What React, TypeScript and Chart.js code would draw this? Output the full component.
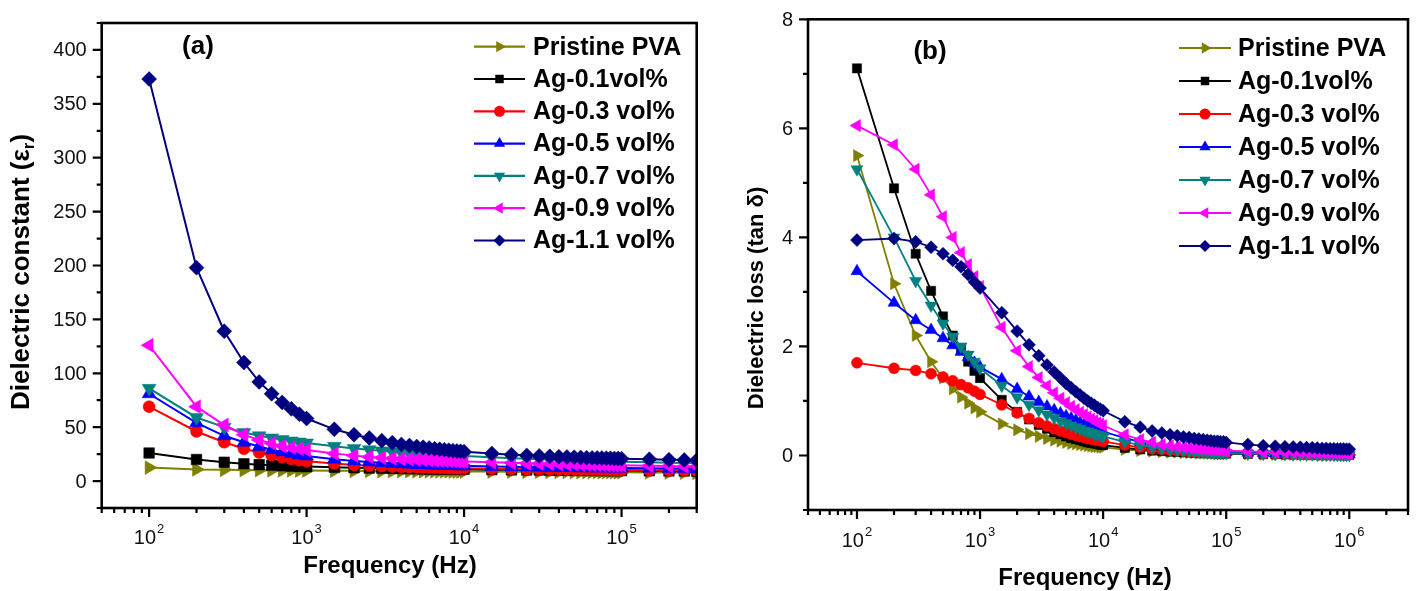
import React, { useEffect, useRef } from "react";
import { Chart, registerables } from "chart.js";
Chart.register(...registerables);

const FONT = "'Liberation Sans', Arial, Helvetica, sans-serif";

// ---------- frequencies (Hz) ----------
const FREQ_A = [
  100, 200, 300, 400, 500, 600, 700, 800, 900, 1000,
  1500, 2000, 2500, 3000, 3500, 4000, 4500, 5000, 5500, 6000, 6500, 7000, 7500, 8000, 8500, 9000, 9500, 10000,
  15000, 20000, 25000, 30000, 35000, 40000, 45000, 50000, 55000, 60000, 65000, 70000, 75000, 80000, 85000, 90000, 95000, 100000,
  150000, 200000, 250000, 300000,
];
const FREQ_B = [
  100, 200, 300, 400, 500, 600, 700, 800, 900, 1000,
  1500, 2000, 2500, 3000, 3500, 4000, 4500, 5000, 5500, 6000, 6500, 7000, 7500, 8000, 8500, 9000, 9500, 10000,
  15000, 20000, 25000, 30000, 35000, 40000, 45000, 50000, 55000, 60000, 65000, 70000, 75000, 80000, 85000, 90000, 95000, 100000,
  150000, 200000, 250000, 300000, 350000, 400000, 450000, 500000, 550000, 600000, 650000, 700000, 750000, 800000, 850000, 900000, 950000, 1000000,
];

// ---------- series ----------
const SERIES_NAMES = ["Pristine PVA", "Ag-0.1vol%", "Ag-0.3 vol%", "Ag-0.5 vol%", "Ag-0.7 vol%", "Ag-0.9 vol%", "Ag-1.1 vol%"];
const SERIES_COLORS = ["#808000", "#000000", "#ff0000", "#0000ff", "#008080", "#ff00ff", "#000080"];
const POINT_STYLES = ["triangle", "rect", "circle", "triangle", "triangle", "triangle", "rectRot"];
const POINT_ROTATIONS = [90, 0, 0, 0, 180, -90, 0];

// ---------- (a) dielectric constant ----------
const EPS_PVA = [
  12.5, 10.8, 10.4, 10.2, 10.1, 10.0, 9.9, 9.9, 9.8, 9.8,
  9.6, 9.5, 9.4, 9.3, 9.3, 9.2, 9.2, 9.1, 9.1, 9.1, 9.0, 9.0, 9.0, 9.0, 8.9, 8.9, 8.9, 8.9,
  8.8, 8.7, 8.6, 8.6, 8.5, 8.5, 8.5, 8.4, 8.4, 8.4, 8.4, 8.3, 8.3, 8.3, 8.3, 8.3, 8.2, 8.2,
  8.0, 7.9, 7.8, 7.7,
];
const EPS_AG01 = [
  26, 20, 17.5, 16, 15.2, 14.6, 14.2, 13.9, 13.6, 13.4,
  12.8, 12.4, 12.1, 11.9, 11.8, 11.6, 11.5, 11.4, 11.3, 11.3, 11.2, 11.1, 11.1, 11.0, 11.0, 11.0, 10.9, 10.9,
  10.6, 10.4, 10.3, 10.2, 10.1, 10.1, 10.0, 10.0, 9.9, 9.9, 9.9, 9.8, 9.8, 9.8, 9.8, 9.7, 9.7, 9.7,
  9.5, 9.4, 9.3, 9.2,
];
const EPS_AG03 = [
  69, 46, 36, 30, 26.5, 24, 22, 20.5, 19.3, 18.3,
  16.2, 15.0, 14.3, 13.8, 13.4, 13.1, 12.9, 12.7, 12.5, 12.4, 12.3, 12.2, 12.1, 12.0, 11.9, 11.9, 11.8, 11.8,
  11.4, 11.2, 11.0, 10.9, 10.8, 10.7, 10.7, 10.6, 10.6, 10.5, 10.5, 10.5, 10.4, 10.4, 10.4, 10.3, 10.3, 10.3,
  10.1, 10.0, 9.9, 9.8,
];
const EPS_AG05 = [
  81, 54, 42, 36, 32, 29, 27, 25.5, 24.2, 23.2,
  20.2, 18.6, 17.6, 16.9, 16.4, 16.0, 15.7, 15.4, 15.2, 15.0, 14.8, 14.7, 14.6, 14.5, 14.4, 14.3, 14.2, 14.1,
  13.5, 13.2, 13.0, 12.8, 12.7, 12.6, 12.5, 12.4, 12.4, 12.3, 12.3, 12.2, 12.2, 12.1, 12.1, 12.1, 12.0, 12.0,
  11.8, 11.7, 11.6, 11.5,
];
const EPS_AG07 = [
  86, 59, 50, 45, 42, 40, 38.5, 37.2, 36.2, 35.3,
  32.2, 30.3, 29.0, 28.0, 27.2, 26.6, 26.1, 25.6, 25.2, 24.9, 24.6, 24.3, 24.1, 23.9, 23.7, 23.5, 23.3, 23.2,
  22.0, 21.2, 20.6, 20.2, 19.9, 19.6, 19.4, 19.2, 19.0, 18.9, 18.7, 18.6, 18.5, 18.4, 18.3, 18.2, 18.1, 18.0,
  17.4, 17.0, 16.7, 16.5,
];
const EPS_AG09 = [
  126, 69, 52, 43, 38, 35, 32.5, 31, 29.8, 28.8,
  25.5, 23.6, 22.4, 21.6, 21.0, 20.5, 20.1, 19.8, 19.5, 19.3, 19.1, 18.9, 18.7, 18.6, 18.5, 18.4, 18.3, 18.2,
  17.4, 16.9, 16.5, 16.2, 16.0, 15.8, 15.6, 15.5, 15.4, 15.3, 15.2, 15.1, 15.0, 14.9, 14.9, 14.8, 14.8, 14.7,
  14.2, 13.9, 13.6, 13.4,
];
const EPS_AG11 = [
  373, 198, 139, 110, 92, 81, 73, 67, 62, 58,
  48, 43, 40, 37.5, 35.5, 34, 33, 32, 31.3, 30.6, 30, 29.5, 29, 28.6, 28.2, 27.9, 27.6, 27.3,
  25.5, 24.5, 23.8, 23.3, 22.9, 22.6, 22.3, 22.1, 21.9, 21.7, 21.5, 21.4, 21.3, 21.2, 21.1, 21.0, 20.9, 20.8,
  20.2, 19.8, 19.5, 19.3,
];

// ---------- (b) dielectric loss ----------
const TAN_PVA = [
  5.5, 3.15, 2.2, 1.72, 1.42, 1.22, 1.07, 0.96, 0.87, 0.8,
  0.58, 0.47, 0.4, 0.35, 0.31, 0.28, 0.26, 0.24, 0.22, 0.21, 0.2, 0.19, 0.18, 0.17, 0.16, 0.16, 0.15, 0.15,
  0.11, 0.09, 0.08, 0.07, 0.06, 0.06, 0.05, 0.05, 0.05, 0.04, 0.04, 0.04, 0.04, 0.04, 0.03, 0.03, 0.03, 0.03,
  0.03, 0.02, 0.02, 0.02, 0.02, 0.02, 0.02, 0.02, 0.02, 0.01, 0.01, 0.01, 0.01, 0.01, 0.01, 0.01, 0.01, 0.01,
];
const TAN_AG01 = [
  7.1, 4.9, 3.7, 3.02, 2.55, 2.2, 1.95, 1.72, 1.55, 1.42,
  1.02, 0.8, 0.66, 0.56, 0.49, 0.43, 0.39, 0.35, 0.32, 0.3, 0.28, 0.26, 0.24, 0.23, 0.22, 0.21, 0.2, 0.19,
  0.14, 0.11, 0.09, 0.08, 0.07, 0.065, 0.06, 0.055, 0.05, 0.05, 0.045, 0.045, 0.04, 0.04, 0.04, 0.035, 0.035, 0.035,
  0.03, 0.025, 0.025, 0.02, 0.02, 0.02, 0.02, 0.02, 0.02, 0.015, 0.015, 0.015, 0.015, 0.015, 0.015, 0.01, 0.01, 0.01,
];
const TAN_AG03 = [
  1.7, 1.6, 1.56, 1.5, 1.44, 1.37, 1.3, 1.24, 1.18, 1.12,
  0.93, 0.78, 0.68, 0.6, 0.54, 0.49, 0.45, 0.42, 0.39, 0.37, 0.35, 0.33, 0.31, 0.3, 0.29, 0.28, 0.27, 0.26,
  0.19, 0.15, 0.12, 0.11, 0.1, 0.09, 0.08, 0.075, 0.07, 0.065, 0.06, 0.06, 0.055, 0.055, 0.05, 0.05, 0.05, 0.045,
  0.04, 0.035, 0.03, 0.03, 0.025, 0.025, 0.025, 0.02, 0.02, 0.02, 0.02, 0.02, 0.02, 0.015, 0.015, 0.015, 0.015, 0.015,
];
const TAN_AG05 = [
  3.38, 2.8, 2.48, 2.3, 2.15, 2.02, 1.9, 1.8, 1.7, 1.62,
  1.4, 1.22, 1.08, 0.98, 0.9, 0.83, 0.77, 0.72, 0.68, 0.64, 0.6, 0.57, 0.54, 0.52, 0.5, 0.48, 0.46, 0.44,
  0.32, 0.25, 0.2, 0.17, 0.15, 0.13, 0.12, 0.11, 0.1, 0.095, 0.09, 0.085, 0.08, 0.075, 0.07, 0.07, 0.065, 0.065,
  0.05, 0.045, 0.04, 0.035, 0.035, 0.03, 0.03, 0.03, 0.025, 0.025, 0.025, 0.025, 0.02, 0.02, 0.02, 0.02, 0.02, 0.02,
];
const TAN_AG07 = [
  5.25, 4.0, 3.2, 2.75, 2.42, 2.18, 2.0, 1.85, 1.72, 1.6,
  1.28, 1.07, 0.93, 0.83, 0.75, 0.69, 0.63, 0.59, 0.55, 0.52, 0.49, 0.46, 0.44, 0.42, 0.4, 0.38, 0.37, 0.35,
  0.25, 0.19, 0.15, 0.13, 0.11, 0.1, 0.09, 0.08, 0.075, 0.07, 0.065, 0.06, 0.06, 0.055, 0.05, 0.05, 0.05, 0.045,
  0.035, 0.03, 0.025, 0.025, 0.02, 0.02, 0.02, 0.02, 0.015, 0.015, 0.015, 0.015, 0.015, 0.01, 0.01, 0.01, 0.01, 0.01,
];
const TAN_AG09 = [
  6.05, 5.7, 5.25, 4.78, 4.38, 4.0, 3.72, 3.5, 3.28, 3.1,
  2.35, 1.92, 1.63, 1.43, 1.28, 1.15, 1.05, 0.97, 0.9, 0.84, 0.79, 0.75, 0.71, 0.67, 0.64, 0.6, 0.58, 0.55,
  0.38, 0.29, 0.24, 0.2, 0.18, 0.16, 0.15, 0.14, 0.13, 0.12, 0.115, 0.11, 0.105, 0.1, 0.1, 0.095, 0.09, 0.09,
  0.075, 0.065, 0.06, 0.055, 0.055, 0.05, 0.05, 0.05, 0.045, 0.045, 0.045, 0.04, 0.04, 0.04, 0.04, 0.04, 0.035, 0.035,
];
const TAN_AG11 = [
  3.95, 3.98, 3.92, 3.82, 3.7, 3.58, 3.46, 3.32, 3.18, 3.07,
  2.62, 2.28, 2.03, 1.83, 1.66, 1.53, 1.42, 1.32, 1.24, 1.17, 1.11, 1.05, 1.0, 0.96, 0.92, 0.88, 0.85, 0.82,
  0.62, 0.52, 0.45, 0.41, 0.38, 0.36, 0.34, 0.33, 0.31, 0.3, 0.29, 0.28, 0.27, 0.26, 0.26, 0.25, 0.25, 0.24,
  0.2, 0.18, 0.17, 0.16, 0.155, 0.15, 0.145, 0.14, 0.135, 0.13, 0.13, 0.125, 0.125, 0.12, 0.12, 0.12, 0.115, 0.115,
];

// ---------- ticks ----------
const Y_TICKS_A = [0, 50, 100, 150, 200, 250, 300, 350, 400];
const Y_MINOR_A = [-25, 25, 75, 125, 175, 225, 275, 325, 375, 425];
const X_DECADES_A = [100, 1000, 10000, 100000];
const X_EXPONENTS_A = ["2", "3", "4", "5"];
const Y_TICKS_B = [0, 2, 4, 6, 8];
const Y_MINOR_B = [-1, 1, 3, 5, 7];
const X_DECADES_B = [100, 1000, 10000, 100000, 1000000];
const X_EXPONENTS_B = ["2", "3", "4", "5", "6"];

function drawMarker(ctx, style, rotDeg, x, y, r, color) {
  ctx.save();
  ctx.fillStyle = color;
  ctx.beginPath();
  if (style === "circle") {
    ctx.arc(x, y, r, 0, Math.PI * 2);
  } else if (style === "rect") {
    const s = Math.SQRT1_2 * r;
    ctx.rect(x - s, y - s, 2 * s, 2 * s);
  } else if (style === "rectRot") {
    ctx.moveTo(x, y - r);
    ctx.lineTo(x + r, y);
    ctx.lineTo(x, y + r);
    ctx.lineTo(x - r, y);
    ctx.closePath();
  } else {
    let rad = (rotDeg * Math.PI) / 180;
    for (let k = 0; k < 3; k++) {
      const px = x + Math.sin(rad) * r;
      const py = y - Math.cos(rad) * r;
      if (k === 0) ctx.moveTo(px, py);
      else ctx.lineTo(px, py);
      rad += (2 * Math.PI) / 3;
    }
    ctx.closePath();
  }
  ctx.fill();
  ctx.restore();
}

function makeDecor(cfg) {
  return {
    id: "decor" + cfg.id,
    afterDraw(chart) {
      const { ctx, chartArea: ca, scales } = chart;
      const xs = scales.x;
      const ys = scales.y;
      ctx.save();
      ctx.strokeStyle = "#000";
      ctx.fillStyle = "#000";
      ctx.lineCap = "butt";
      // frame
      ctx.lineWidth = 2.6;
      ctx.strokeRect(ca.left, ca.top, ca.right - ca.left, ca.bottom - ca.top);
      // y ticks
      ctx.lineWidth = 2.2;
      ctx.beginPath();
      for (const v of cfg.yMajor) {
        const py = ys.getPixelForValue(v);
        ctx.moveTo(ca.left - 9, py);
        ctx.lineTo(ca.left, py);
      }
      for (const v of cfg.yMinor) {
        const py = ys.getPixelForValue(v);
        ctx.moveTo(ca.left - 5, py);
        ctx.lineTo(ca.left, py);
      }
      // x ticks
      for (const d of cfg.xDecades) {
        const px = xs.getPixelForValue(d);
        ctx.moveTo(px, ca.bottom);
        ctx.lineTo(px, ca.bottom + 9);
      }
      for (let k = 1; k <= 6; k++) {
        for (let m = 2; m <= 9; m++) {
          const v = m * Math.pow(10, k);
          if (v < xs.min * 0.999 || v > xs.max * 1.001) continue;
          const px = xs.getPixelForValue(v);
          ctx.moveTo(px, ca.bottom);
          ctx.lineTo(px, ca.bottom + 5);
        }
      }
      ctx.stroke();

      // y labels
      ctx.fillStyle = "#111";
      ctx.font = `20px ${FONT}`;
      ctx.textAlign = "right";
      ctx.textBaseline = "middle";
      for (const v of cfg.yMajor) {
        ctx.fillText(String(v), ca.left - 15, ys.getPixelForValue(v) + 1);
      }
      // x labels 10^n
      ctx.textBaseline = "alphabetic";
      ctx.textAlign = "left";
      cfg.xDecades.forEach((d, i) => {
        const px = xs.getPixelForValue(d);
        ctx.font = `20px ${FONT}`;
        const w1 = ctx.measureText("10").width;
        ctx.font = `13px ${FONT}`;
        const w2 = ctx.measureText(cfg.xExp[i]).width;
        const sx = px - (w1 + 1 + w2) / 2;
        ctx.font = `20px ${FONT}`;
        ctx.fillText("10", sx, cfg.xLabelBase);
        ctx.font = `13px ${FONT}`;
        ctx.fillText(cfg.xExp[i], sx + w1 + 1, cfg.xLabelBase - 11);
      });

      // axis titles
      ctx.fillStyle = "#000";
      ctx.font = `bold 24px ${FONT}`;
      ctx.textAlign = "center";
      ctx.textBaseline = "middle";
      ctx.fillText("Frequency (Hz)", cfg.xTitle[0], cfg.xTitle[1]);

      ctx.save();
      ctx.translate(cfg.yTitle[0], cfg.yTitle[1]);
      ctx.rotate(-Math.PI / 2);
      ctx.textAlign = "left";
      const parts = cfg.yTitleParts;
      const fs = cfg.yTitleSize;
      let total = 0;
      const widths = parts.map((p) => {
        ctx.font = p.sub ? `bold ${Math.round(fs * 0.66)}px ${FONT}` : `bold ${fs}px ${FONT}`;
        const w = ctx.measureText(p.t).width;
        total += w;
        return w;
      });
      let cx = -total / 2;
      parts.forEach((p, i) => {
        ctx.font = p.sub ? `bold ${Math.round(fs * 0.66)}px ${FONT}` : `bold ${fs}px ${FONT}`;
        ctx.fillText(p.t, cx, p.sub ? fs * 0.3 : 0);
        cx += widths[i];
      });
      ctx.restore();

      // panel label
      ctx.font = `bold 26px ${FONT}`;
      ctx.textAlign = "center";
      ctx.fillText(cfg.panel, cfg.panelPos[0], cfg.panelPos[1]);

      // legend
      const L = cfg.legend;
      SERIES_NAMES.forEach((name, i) => {
        const y = L.y0 + i * L.dy;
        ctx.strokeStyle = SERIES_COLORS[i];
        ctx.lineWidth = 2.2;
        ctx.beginPath();
        ctx.moveTo(L.x0, y);
        ctx.lineTo(L.x1, y);
        ctx.stroke();
        drawMarker(ctx, POINT_STYLES[i], POINT_ROTATIONS[i], (L.x0 + L.x1) / 2, y, L.r[i], SERIES_COLORS[i]);
        ctx.fillStyle = "#000";
        ctx.font = `bold 25px ${FONT}`;
        ctx.textAlign = "left";
        ctx.textBaseline = "middle";
        ctx.fillText(name, L.tx, y + 1);
      });
      ctx.restore();
    },
  };
}

function buildDatasets(freq, seriesList, radii, lw) {
  return seriesList.map((vals, i) => ({
    label: SERIES_NAMES[i],
    data: freq.map((f, j) => ({ x: f, y: vals[j] })),
    borderColor: SERIES_COLORS[i],
    backgroundColor: SERIES_COLORS[i],
    borderWidth: lw,
    pointStyle: POINT_STYLES[i],
    pointRotation: POINT_ROTATIONS[i],
    pointRadius: radii[i],
    pointBorderWidth: 0.5,
    pointBorderColor: SERIES_COLORS[i],
    pointBackgroundColor: SERIES_COLORS[i],
    tension: 0,
    order: 6 - i,
  }));
}

function makeChart(canvas, p) {
  return new Chart(canvas, {
    type: "line",
    data: { datasets: p.datasets },
    options: {
      responsive: false,
      maintainAspectRatio: false,
      animation: false,
      events: [],
      layout: { padding: p.padding },
      plugins: { legend: { display: false }, tooltip: { enabled: false } },
      scales: {
        x: { type: "logarithmic", min: p.xMin, max: p.xMax, display: false },
        y: { type: "linear", min: p.yMin, max: p.yMax, display: false },
      },
    },
    plugins: [makeDecor(p.decor)],
  });
}

export default function App() {
  const refA = useRef(null);
  const refB = useRef(null);
  useEffect(() => {
    document.body.style.margin = "0";
    const chartA = makeChart(refA.current, {
      datasets: buildDatasets(
        FREQ_A,
        [EPS_PVA, EPS_AG01, EPS_AG03, EPS_AG05, EPS_AG07, EPS_AG09, EPS_AG11],
        [8, 7.5, 6, 8, 8, 8, 7.5],
        2
      ),
      padding: { left: 101.7, top: 23, right: 11.3, bottom: 83 },
      xMin: 50,
      xMax: 300000,
      yMin: -25,
      yMax: 425,
      decor: {
        id: "A",
        yMajor: Y_TICKS_A,
        yMinor: Y_MINOR_A,
        xDecades: X_DECADES_A,
        xExp: X_EXPONENTS_A,
        xLabelBase: 544,
        xTitle: [390, 566],
        yTitle: [22, 272],
        yTitleSize: 26,
        yTitleParts: [{ t: "Dielectric constant (ε" }, { t: "r", sub: true }, { t: ")" }],
        panel: "(a)",
        panelPos: [198, 47],
        legend: { x0: 474, x1: 525, tx: 533, y0: 46.7, dy: 32.3, r: [6.5, 6, 5.5, 6.5, 6.5, 6.5, 6] },
      },
    });
    const chartB = makeChart(refB.current, {
      datasets: buildDatasets(
        FREQ_B,
        [TAN_PVA, TAN_AG01, TAN_AG03, TAN_AG05, TAN_AG07, TAN_AG09, TAN_AG11],
        [7, 6.5, 5.5, 7, 7, 7, 6.5],
        1.8
      ),
      padding: { left: 100, top: 19.3, right: 8, bottom: 81 },
      xMin: 40,
      xMax: 3000000,
      yMin: -1,
      yMax: 8,
      decor: {
        id: "B",
        yMajor: Y_TICKS_B,
        yMinor: Y_MINOR_B,
        xDecades: X_DECADES_B,
        xExp: X_EXPONENTS_B,
        xLabelBase: 546.5,
        xTitle: [377, 578],
        yTitle: [49, 298],
        yTitleSize: 22,
        yTitleParts: [{ t: "Dielectric loss (tan δ)" }],
        panel: "(b)",
        panelPos: [222, 52],
        legend: { x0: 471, x1: 523, tx: 530, y0: 48, dy: 33, r: [6.5, 6, 5.5, 6.5, 6.5, 6.5, 6] },
      },
    });
    return () => {
      chartA.destroy();
      chartB.destroy();
    };
  }, []);
  return (
    <div style={{ position: "absolute", left: 0, top: 0, width: 1416, height: 591, background: "#fff" }}>
      <canvas ref={refA} width={708} height={591} style={{ position: "absolute", left: 0, top: 0 }} />
      <canvas ref={refB} width={708} height={591} style={{ position: "absolute", left: 708, top: 0 }} />
    </div>
  );
}
